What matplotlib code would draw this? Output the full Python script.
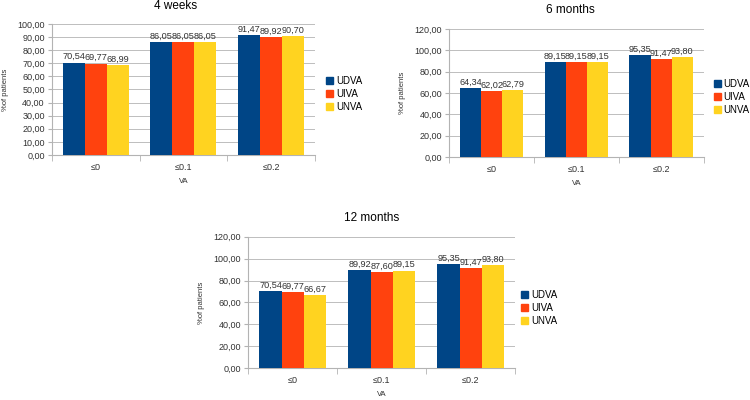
import matplotlib.pyplot as plt
import numpy as np
from matplotlib.patches import Patch

plt.rcParams['font.family'] = ['Liberation Sans', 'DejaVu Sans']

categories = ['≤0', '≤0.1', '≤0.2']
series = ['UDVA', 'UIVA', 'UNVA']
colors = ['#004586', '#ff420e', '#ffd320']

weeks4 = [[70.54, 86.05, 91.47], [69.77, 86.05, 89.92], [68.99, 86.05, 90.70]]
months6 = [[64.34, 89.15, 95.35], [62.02, 89.15, 91.47], [62.79, 89.15, 93.80]]
months12 = [[70.54, 89.92, 95.35], [69.77, 87.60, 91.47], [66.67, 89.15, 93.80]]

# title, data, axes rect, ymax, step, legend anchor, title position (px)
panels = [
    ('4 weeks', weeks4, [0.069, 0.6125, 0.351, 0.3275], 100, 10, (0.435, 0.765), (176, 6)),
    ('6 months', months6, [0.599, 0.6075, 0.339, 0.32], 120, 20, (0.952, 0.7575), (570, 10)),
    ('12 months', months12, [0.331, 0.08, 0.356, 0.328], 120, 20, (0.695, 0.23), (372, 218)),
]

fig = plt.figure(figsize=(7.5, 4), dpi=100)
x = np.arange(len(categories))
w = 0.25

for title, data, pos, ymax, step, legpos, tpos in panels:
    ax = fig.add_axes(pos)
    for i, (name, vals) in enumerate(zip(series, data)):
        bars = ax.bar(x + (i - 1) * w, vals, w, color=colors[i], zorder=3)
        for b, v in zip(bars, vals):
            ax.text(b.get_x() + b.get_width() / 2, v + ymax * 0.01,
                    f'{v:.2f}'.replace('.', ','), ha='center', va='bottom',
                    fontsize=6.6, color='#333333', zorder=4)
    ax.set_xlim(-0.5, 2.5)
    ax.set_ylim(0, ymax)
    yt = np.arange(0, ymax + 1, step)
    ax.set_yticks(yt)
    ax.set_yticklabels([f'{t:.2f}'.replace('.', ',') for t in yt])
    ax.set_xticks(x)
    ax.set_xticklabels(categories)
    ax.set_xticks([-0.5, 0.5, 1.5, 2.5], minor=True)
    ax.tick_params(axis='x', which='major', length=0, pad=6, labelsize=6.5, colors='#333333')
    ax.tick_params(axis='x', which='minor', length=4, color='#b3b3b3')
    ax.tick_params(axis='y', length=3, color='#b3b3b3', labelsize=6.5, colors='#333333', pad=2)
    ax.grid(axis='y', color='#b3b3b3', linewidth=0.6, zorder=0)
    for s in ['top', 'right']:
        ax.spines[s].set_visible(False)
    for s in ['left', 'bottom']:
        ax.spines[s].set_color('#b3b3b3')
    fig.text(tpos[0] / 750, 1 - tpos[1] / 400, title, ha='center', va='center', fontsize=8.5)
    ax.set_ylabel('%of patients', fontsize=5.5, color='#333333', labelpad=6)
    ax.set_xlabel('VA', fontsize=5.5, color='#333333', labelpad=4)
    handles = [Patch(color=c) for c in colors]
    fig.legend(handles, series, loc='center left', bbox_to_anchor=legpos,
               frameon=False, fontsize=7, handlelength=0.7, handleheight=0.7,
               handletextpad=0.3, labelspacing=0.3, borderaxespad=0, borderpad=0)

fig.savefig('out.png', dpi=100)
